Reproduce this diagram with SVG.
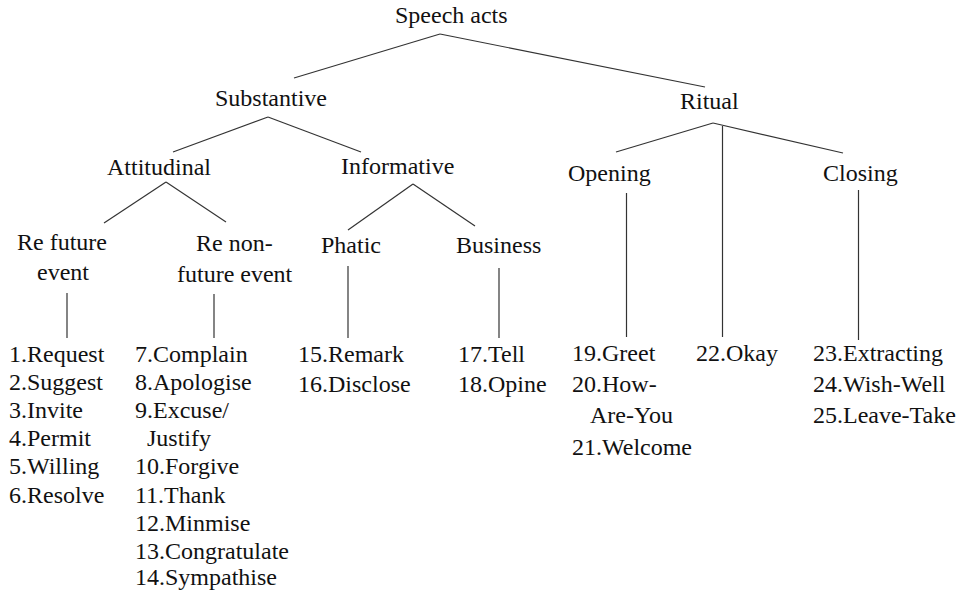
<svg xmlns="http://www.w3.org/2000/svg" width="969" height="591" viewBox="0 0 969 591">
<style>
text{font-family:"Liberation Serif","Times New Roman",serif;font-size:24px;fill:#111}
.c line{stroke:#333;stroke-width:1.2;fill:none}
</style>
<rect width="969" height="591" fill="#fff"/>
<g class="c" id="connectors">
<line x1="440" y1="34" x2="294" y2="78"/>
<line x1="440" y1="34" x2="705" y2="87"/>
<line x1="268" y1="117" x2="173" y2="152"/>
<line x1="268" y1="117" x2="361" y2="152"/>
<line x1="713" y1="123" x2="616" y2="152"/>
<line x1="713" y1="123" x2="843" y2="153"/>
<line x1="722.5" y1="126" x2="722.5" y2="337"/>
<line x1="166" y1="182" x2="104" y2="223"/>
<line x1="166" y1="182" x2="226" y2="222"/>
<line x1="413" y1="184" x2="348" y2="230"/>
<line x1="413" y1="184" x2="475" y2="226"/>
<line x1="626.5" y1="193" x2="626.5" y2="337"/>
<line x1="858.5" y1="190" x2="858.5" y2="340"/>
<line x1="67" y1="293" x2="67" y2="338"/>
<line x1="214" y1="294" x2="214" y2="338"/>
<line x1="348" y1="266" x2="348" y2="338"/>
<line x1="499" y1="268" x2="499" y2="338"/>
</g>
<g id="speech-acts"><text x="395" y="23">Speech acts</text></g>
<g id="substantive"><text x="215" y="106">Substantive</text></g>
<g id="ritual"><text x="680" y="109">Ritual</text></g>
<g id="attitudinal"><text x="107" y="175">Attitudinal</text></g>
<g id="informative"><text x="341" y="174">Informative</text></g>
<g id="opening"><text x="568" y="181">Opening</text></g>
<g id="closing"><text x="823" y="181">Closing</text></g>
<g id="re-future"><text x="17" y="250">Re future</text><text x="37" y="280">event</text></g>
<g id="re-non-future"><text x="196" y="251">Re non-</text><text x="177" y="282">future event</text></g>
<g id="phatic"><text x="321" y="253">Phatic</text></g>
<g id="business"><text x="456" y="253">Business</text></g>
<g id="list-future">
<text x="9" y="361.5">1.Request</text>
<text x="9" y="389.7">2.Suggest</text>
<text x="9" y="417.9">3.Invite</text>
<text x="9" y="446.1">4.Permit</text>
<text x="9" y="474.3">5.Willing</text>
<text x="9" y="502.5">6.Resolve</text>
</g>
<g id="list-non-future">
<text x="135" y="361.5">7.Complain</text>
<text x="135" y="389.7">8.Apologise</text>
<text x="135" y="417.9">9.Excuse/</text>
<text x="147" y="446.1">Justify</text>
<text x="135" y="474.3">10.Forgive</text>
<text x="135" y="502.5">11.Thank</text>
<text x="135" y="530.7">12.Minmise</text>
<text x="135" y="558.9">13.Congratulate</text>
<text x="135" y="585">14.Sympathise</text>
</g>
<g id="list-phatic">
<text x="298" y="361.5">15.Remark</text>
<text x="298" y="392">16.Disclose</text>
</g>
<g id="list-business">
<text x="458" y="361.5">17.Tell</text>
<text x="458" y="392">18.Opine</text>
</g>
<g id="list-opening">
<text x="572" y="361">19.Greet</text>
<text x="572" y="392">20.How-</text>
<text x="590" y="423">Are-You</text>
<text x="572" y="454.5">21.Welcome</text>
</g>
<g id="list-okay"><text x="696" y="361">22.Okay</text></g>
<g id="list-closing">
<text x="813" y="361">23.Extracting</text>
<text x="813" y="392">24.Wish-Well</text>
<text x="813" y="423">25.Leave-Take</text>
</g>
</svg>
